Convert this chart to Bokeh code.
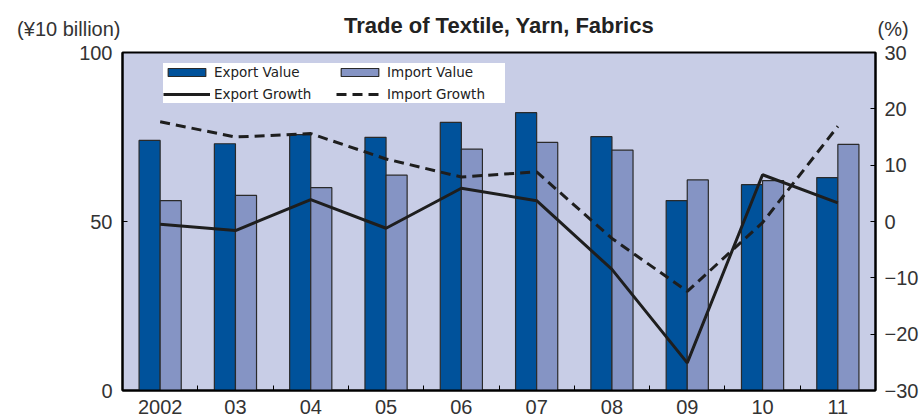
from bokeh.plotting import figure
from bokeh.layouts import column
from bokeh.models import (ColumnDataSource, Range1d, LinearAxis, FixedTicker,
                          Legend, LegendItem)
from bokeh.transform import dodge
from bokeh.core.properties import value
from bokeh.embed import file_html
from bokeh.resources import INLINE

years = ["2002", "03", "04", "05", "06", "07", "08", "09", "10", "11"]
export_value = [74.0, 73.0, 75.7, 74.9, 79.3, 82.2, 75.1, 56.2, 60.9, 63.0]
import_value = [56.2, 57.7, 60.0, 63.7, 71.4, 73.4, 71.1, 62.3, 62.1, 72.8]
export_growth = [-0.5, -1.6, 3.9, -1.2, 5.9, 3.7, -8.5, -25.1, 8.3, 3.3]
import_growth = [17.7, 15.0, 15.6, 11.1, 7.9, 8.8, -3.0, -12.4, -0.2, 16.9]

title_text = "Trade of Textile, Yarn, Fabrics"
left_unit = "(¥10 billion)"
right_unit = "(%)"

FONT = "Liberation Sans"
W, H = 921, 418
HEAD = 42
XR = (-0.5, len(years) - 0.5)

# ---------- header: title + unit labels ----------
head = figure(width=W, height=HEAD, output_backend="svg", toolbar_location=None,
              x_range=Range1d(*XR), y_range=Range1d(0, 28),
              min_border_left=122, min_border_right=44, min_border_top=14,
              min_border_bottom=0, outline_line_color=None)
head.xaxis.visible = False
head.grid.visible = False


def unit_axis(ax, label):
    ax.ticker = FixedTicker(ticks=[])
    ax.axis_line_color = None
    ax.major_tick_line_color = None
    ax.minor_tick_line_color = None
    ax.major_tick_out = 0
    ax.minor_tick_out = 0
    ax.major_tick_in = 0
    ax.minor_tick_in = 0
    ax.axis_label = label
    ax.axis_label_orientation = "horizontal"
    ax.axis_label_standoff = 2
    ax.axis_label_text_font = FONT
    ax.axis_label_text_font_size = "20px"
    ax.axis_label_text_font_style = "normal"
    ax.axis_label_text_color = "#333333"


unit_axis(head.yaxis[0], left_unit)
rax_head = LinearAxis()
unit_axis(rax_head, right_unit)
head.add_layout(rax_head, "right")

head.text(x=[sum(XR) / 2], y=[17], text=[title_text], text_align="center",
          text_baseline="middle", text_font=value(FONT), text_font_size="22px",
          text_font_style="bold", text_color="#222222")

# ---------- main chart ----------
idx = list(range(len(years)))
src = ColumnDataSource(dict(x=idx, exp=export_value, imp=import_value,
                            eg=export_growth, ig=import_growth))

p = figure(width=W, height=H - HEAD, output_backend="svg", toolbar_location=None,
           x_range=Range1d(*XR), y_range=Range1d(0, 100),
           min_border_left=122, min_border_right=44, min_border_top=10,
           min_border_bottom=28)
p.extra_y_ranges = {"pct": Range1d(-30, 30)}
p.background_fill_color = "#C8CDE6"
p.border_fill_color = "white"
p.outline_line_color = "black"
p.outline_line_width = 2
p.xgrid.visible = False
p.ygrid.visible = False

b1 = p.vbar(x=dodge("x", -0.14), top="exp", width=0.28, source=src,
            fill_color="#00529B", line_color="#2a2a2a", line_width=1.2)
b2 = p.vbar(x=dodge("x", 0.14), top="imp", width=0.28, source=src,
            fill_color="#8594C4", line_color="#2a2a2a", line_width=1.2)
l1 = p.line(x="x", y="eg", source=src, y_range_name="pct",
            line_color="#1e1e1e", line_width=3)
l2 = p.line(x="x", y="ig", source=src, y_range_name="pct",
            line_color="#1e1e1e", line_width=3, line_dash="10 6")

xa = p.xaxis[0]
xa.ticker = FixedTicker(ticks=idx, minor_ticks=[i + 0.5 for i in idx[:-1]])
xa.major_label_overrides = {i: y for i, y in zip(idx, years)}
xa.major_tick_line_color = None
xa.minor_tick_in = 5
xa.minor_tick_out = 0
xa.minor_tick_line_color = "black"
xa.axis_line_width = 2
xa.major_label_standoff = 3
xa.major_label_text_font = FONT
xa.major_label_text_font_size = "20px"
xa.major_label_text_color = "#333333"

ya = p.yaxis[0]
ya.ticker = FixedTicker(ticks=[0, 50, 100])
ya.major_tick_in = 5
ya.major_tick_out = 0
ya.minor_tick_line_color = None
ya.axis_line_width = 2
ya.major_label_standoff = 10
ya.major_label_text_font = FONT
ya.major_label_text_font_size = "20px"
ya.major_label_text_color = "#333333"

ra = LinearAxis(y_range_name="pct",
                ticker=FixedTicker(ticks=[-30, -20, -10, 0, 10, 20, 30]))
ra.major_tick_in = 5
ra.major_tick_out = 0
ra.minor_tick_line_color = None
ra.axis_line_width = 2
ra.major_label_standoff = 9
ra.major_label_text_font = FONT
ra.major_label_text_font_size = "20px"
ra.major_label_text_color = "#333333"
p.add_layout(ra, "right")

legend = Legend(items=[LegendItem(label="Export Value", renderers=[b1]),
                       LegendItem(label="Import Value", renderers=[b2]),
                       LegendItem(label="Export Growth", renderers=[l1]),
                       LegendItem(label="Import Growth", renderers=[l2])],
                orientation="horizontal", ncols=2,
                location=(41, 287), glyph_width=47, glyph_height=10,
                label_height=18, label_width=118, label_standoff=4,
                spacing=4, padding=5, margin=0,
                label_text_font="DejaVu Sans", label_text_font_size="13.5px",
                label_text_color="#222222",
                background_fill_color="white", background_fill_alpha=1,
                border_line_color=None)
p.add_layout(legend, "center")

layout = column(head, p, spacing=0)
open("out.html", "w").write(file_html(layout, INLINE))
